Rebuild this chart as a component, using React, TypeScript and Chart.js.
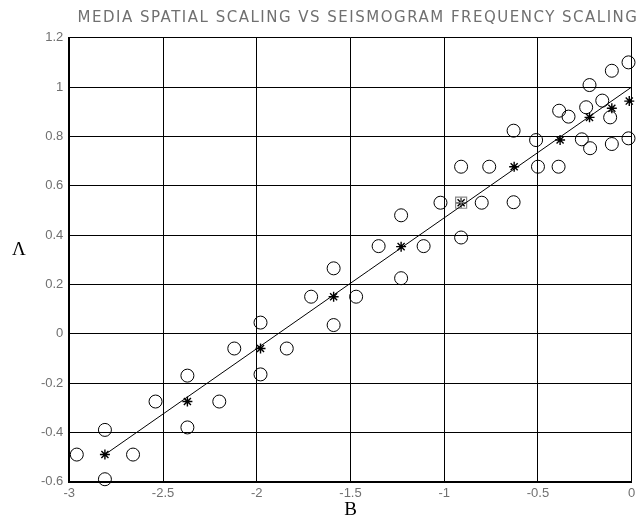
import React, { useEffect, useRef } from "react";
import { Chart, registerables } from "chart.js";

Chart.register(...registerables);

const titleText = "MEDIA SPATIAL SCALING VS SEISMOGRAM FREQUENCY SCALING";
const xAxisLabel = "B";
const yAxisLabel = "Λ";

// Individual measurements (open circles)
const circleX = [
  -2.96, -2.81, -2.81, -2.66,
  -2.54, -2.37, -2.37, -2.2,
  -2.12, -1.98, -1.98, -1.84,
  -1.71, -1.59, -1.59, -1.47,
  -1.35, -1.23, -1.23, -1.11,
  -1.02, -0.91, -0.91, -0.8,
  -0.76, -0.63, -0.63, -0.5,
  -0.51, -0.387, -0.39, -0.266,
  -0.337, -0.225, -0.222, -0.115,
  -0.243, -0.106, -0.106,
  -0.157, -0.017, -0.017,
];
const circleY = [
  -0.49, -0.39, -0.59, -0.49,
  -0.275, -0.17, -0.38, -0.275,
  -0.06, 0.045, -0.165, -0.06,
  0.15, 0.265, 0.035, 0.15,
  0.355, 0.48, 0.225, 0.355,
  0.531, 0.677, 0.39, 0.531,
  0.677, 0.823, 0.533, 0.677,
  0.785, 0.904, 0.677, 0.788,
  0.88, 1.008, 0.752, 0.877,
  0.918, 1.066, 0.769,
  0.945, 1.1, 0.792,
];

// Means (asterisks)
const starX = [-2.81, -2.37, -1.98, -1.59, -1.23, -0.91, -0.627, -0.382, -0.225, -0.106, -0.013];
const starY = [-0.49, -0.275, -0.06, 0.15, 0.353, 0.531, 0.677, 0.785, 0.877, 0.914, 0.943];

// Highlighted point (grey box)
const boxX = [-0.91];
const boxY = [0.531];

// Fitted line
const lineX = [-2.81, 0];
const lineY = [-0.49, 1.0];

const xMin = -3;
const xMax = 0;
const xStep = 0.5;
const yMin = -0.6;
const yMax = 1.2;
const yStep = 0.2;

const toPts = (xs: number[], ys: number[]) => xs.map((x, i) => ({ x, y: ys[i] }));
const fmt = (v: number | string) => Number(Number(v).toFixed(2)).toString();

const textPlugin = {
  id: "textPlugin",
  afterDraw(chart: any) {
    const ctx = chart.ctx;
    ctx.save();
    ctx.fillStyle = "#707070";
    ctx.font = '15px "DejaVu Sans"';
    try {
      (ctx as any).letterSpacing = "1.5px";
    } catch (e) {}
    ctx.textAlign = "center";
    ctx.textBaseline = "middle";
    ctx.fillText(titleText, 358, 18.5);
    try {
      (ctx as any).letterSpacing = "0px";
    } catch (e) {}
    ctx.fillStyle = "#000";
    ctx.font = '19px "Liberation Serif"';
    ctx.fillText(yAxisLabel, 19, 250);
    ctx.restore();
  },
};

export default function App() {
  const ref = useRef<HTMLCanvasElement>(null);
  useEffect(() => {
    const chart = new Chart(ref.current as HTMLCanvasElement, {
      type: "scatter",
      data: {
        datasets: [
          {
            type: "line",
            data: toPts(lineX, lineY),
            borderColor: "#000",
            borderWidth: 1,
            pointRadius: 0,
            fill: false,
            clip: false,
          } as any,
          {
            data: toPts(boxX, boxY),
            pointStyle: "rect",
            pointRadius: 7.8,
            borderColor: "#888",
            backgroundColor: "transparent",
            borderWidth: 1.2,
            clip: false,
          },
          {
            data: toPts(boxX, boxY),
            pointStyle: "cross",
            pointRadius: 5.5,
            borderColor: "#999",
            borderWidth: 1,
            clip: false,
          },
          {
            data: toPts(circleX, circleY),
            pointStyle: "circle",
            pointRadius: 6.5,
            borderColor: "#000",
            backgroundColor: "transparent",
            borderWidth: 1,
            clip: false,
          },
          {
            data: toPts(starX, starY),
            pointStyle: "star",
            pointRadius: 5,
            borderColor: "#000",
            borderWidth: 1.4,
            clip: false,
          },
        ],
      },
      options: {
        animation: false,
        responsive: false,
        layout: { padding: { top: 37.7, right: 9.3, left: 0, bottom: 0 } },
        plugins: {
          legend: { display: false },
          tooltip: { enabled: false },
          title: { display: false },
        },
        scales: {
          x: {
            type: "linear",
            min: xMin,
            max: xMax,
            ticks: {
              stepSize: xStep,
              color: "#707070",
              font: { family: '"Liberation Sans"', size: 13 },
              padding: 4,
              callback: (v: any) => fmt(v),
            },
            grid: { color: "#000", lineWidth: 1, drawTicks: false },
            border: { color: "#000", width: 2 },
            title: {
              display: true,
              text: xAxisLabel,
              color: "#000",
              font: { family: '"Liberation Serif"', size: 19 },
              padding: { top: 0, bottom: 4.6 },
            },
            afterFit: (s: any) => {
              s.height = 44.3;
            },
          },
          y: {
            type: "linear",
            min: yMin,
            max: yMax,
            ticks: {
              stepSize: yStep,
              color: "#707070",
              font: { family: '"Liberation Sans"', size: 13 },
              padding: 6,
              callback: (v: any) => fmt(v),
            },
            grid: { color: "#000", lineWidth: 1, drawTicks: false },
            border: { color: "#000", width: 2 },
            afterFit: (s: any) => {
              s.width = 69.3;
            },
          },
        },
      },
      plugins: [textPlugin],
    });
    return () => chart.destroy();
  }, []);
  return (
    <div style={{ position: "fixed", left: 0, top: 0, width: 641, height: 526, background: "#fff" }}>
      <canvas ref={ref} width={641} height={526} style={{ display: "block" }} />
    </div>
  );
}
